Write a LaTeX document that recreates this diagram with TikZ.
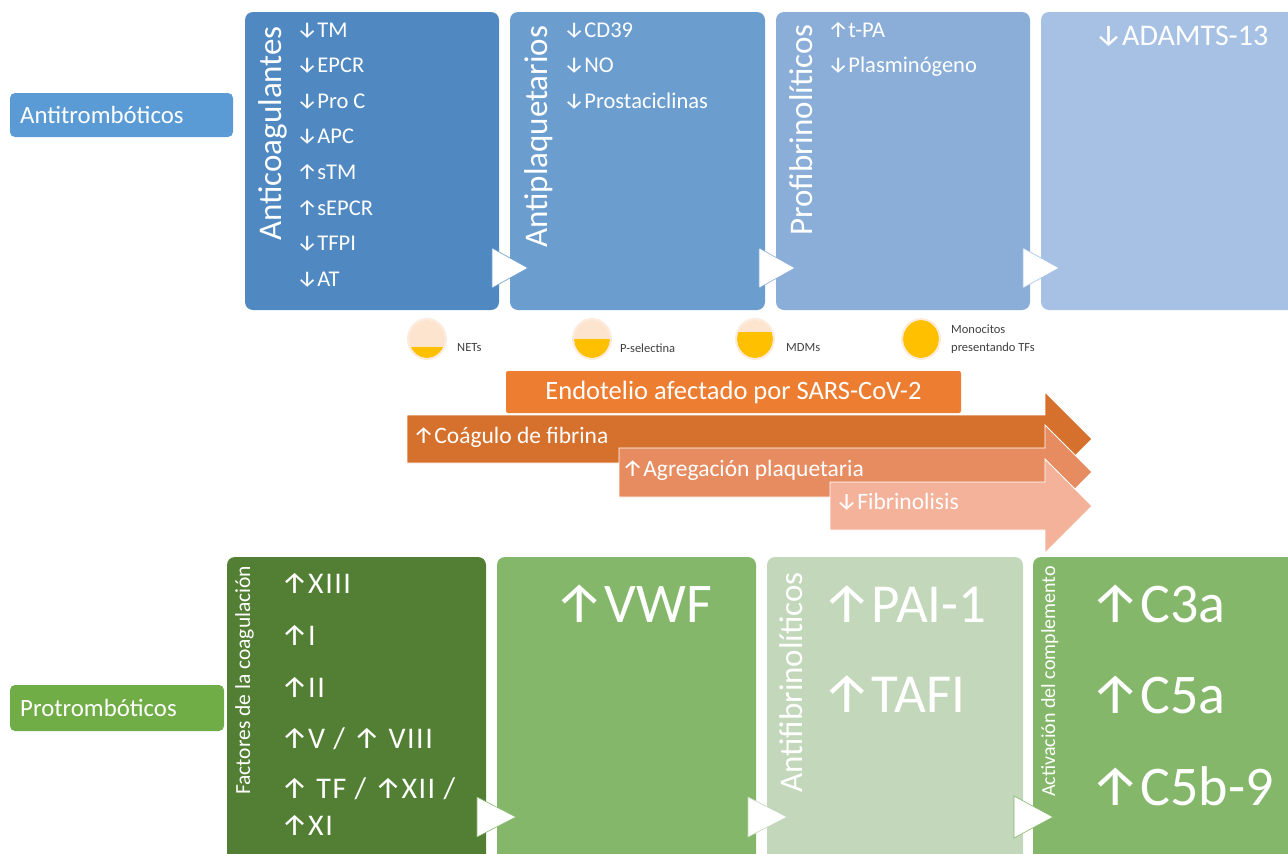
\documentclass[tikz,border=0pt]{standalone}
\usepackage{fontspec}
\setmainfont{Carlito}
\newfontfamily\arrfont{Fira Sans}
\newcommand\myup{{\arrfont ↑}}
\newcommand\mydn{{\arrfont ↓}}
\definecolor{tb1}{HTML}{5089C2}
\definecolor{tb2}{HTML}{6C9DCF}
\definecolor{tb3}{HTML}{8AAED8}
\definecolor{tb4}{HTML}{A6C1E4}
\definecolor{antiL}{HTML}{5B9BD5}
\definecolor{gb1}{HTML}{527F33}
\definecolor{gb2}{HTML}{85B76B}
\definecolor{gb3}{HTML}{C3D8BA}
\definecolor{gb4}{HTML}{85B76B}
\definecolor{proL}{HTML}{70AD47}
\definecolor{or0}{HTML}{ED7D31}
\definecolor{or1}{HTML}{D6712D}
\definecolor{or2}{HTML}{E68C60}
\definecolor{or3}{HTML}{F4B29A}
\definecolor{peach}{HTML}{FCE4CF}
\definecolor{gold}{HTML}{FFC000}
\definecolor{legtxt}{HTML}{404040}
\tikzset{
  box/.style={draw=none, inner sep=0pt, rounded corners=8pt},
  tri/.style={fill=white, draw=#1, line width=0.6pt, line join=miter},
  lbl/.style={text=white, inner sep=0pt, anchor=base west, font=\fontsize{22.5}{26}\selectfont},
  vlab/.style={text=white, inner sep=0pt, anchor=base west, rotate=90, font=\fontsize{33}{36}\selectfont},
  tag/.style={draw=none, inner sep=0pt, rounded corners=5pt},
  tagtxt/.style={text=white, inner sep=0pt, anchor=west, font=\fontsize{24.8}{28}\selectfont},
  leg/.style={text=legtxt, inner sep=0pt, anchor=west, align=left, font=\fontsize{12.5}{18}\selectfont},
  arr/.style={draw=white, line width=0.8pt, line join=miter},
  atxt/.style={text=white, inner sep=0pt, anchor=base west, font=\fontsize{23.5}{28}\selectfont},
  big/.style={text=white, inner sep=0pt, anchor=base west, font=\fontsize{56}{60}\selectfont},
  mid/.style={text=white, inner sep=0pt, anchor=base west, font=\fontsize{30}{34}\selectfont\addfontfeature{LetterSpace=5}}
}
\begin{document}
\begin{tikzpicture}[x=1pt,y=-1pt]
\useasboundingbox (0,0) rectangle (1288,854);
\clip (0,0) rectangle (1288,854);

% ---------- top boxes ----------
\node[box, fill=tb1, minimum width=254pt, minimum height=298pt] (t1) at (372,161) {};
\node[box, fill=tb2, minimum width=255pt, minimum height=298pt] (t2) at (637.5,161) {};
\node[box, fill=tb3, minimum width=254pt, minimum height=298pt] (t3) at (903,161) {};
\node[box, fill=tb4, minimum width=269pt, minimum height=298pt] (t4) at (1175.5,161) {};
\draw[tri=tb2] (492,248) -- (528,268) -- (492,288) -- cycle;
\draw[tri=tb3] (759,248) -- (795,268) -- (759,288) -- cycle;
\draw[tri=tb4] (1023,248) -- (1059,268) -- (1023,288) -- cycle;

\node[vlab] (l1) at (281,241) {Anticoagulantes};
\node[vlab] (l2) at (547,248) {Antiplaquetarios};
\node[vlab] (l3) at (812,236) {Profibrinolíticos};

\node[lbl] (a1) at (297,37) {\mydn TM};
\node[lbl] (a2) at (297,72.6) {\mydn EPCR};
\node[lbl] (a3) at (297,108.2) {\mydn Pro C};
\node[lbl] (a4) at (297,143.8) {\mydn APC};
\node[lbl] (a5) at (297,179.4) {\myup sTM};
\node[lbl] (a6) at (297,215) {\myup sEPCR};
\node[lbl] (a7) at (297,250.6) {\mydn TFPI};
\node[lbl] (a8) at (297,286.2) {\mydn AT};

\node[lbl] (p1) at (564,37) {\mydn CD39};
\node[lbl] (p2) at (564,72.6) {\mydn NO};
\node[lbl] (p3) at (564,108.2) {\mydn Prostaciclinas};

\node[lbl] (f1) at (828,37) {\myup t-PA};
\node[lbl] (f2) at (828,72.6) {\mydn Plasminógeno};

\node[lbl, font=\fontsize{30}{32}\selectfont] (ad) at (1095,45) {\mydn ADAMTS-13};

% ---------- side tags ----------
\node[tag, fill=antiL, minimum width=223pt, minimum height=44pt] (anti) at (121.5,115) {};
\node[tagtxt] (antit) at (20,115) {Antitrombóticos};

% ---------- legend ----------
\foreach \cx/\lev [count=\i] in {427/346.5, 592/339, 755/332, 921/315} {
  \fill[peach] (\cx,339) ellipse (18 and 19);
  \begin{scope}
    \clip (\cx,339) ellipse (18 and 19);
    \fill[gold] (\cx-20,\lev) rectangle (\cx+20,360);
  \end{scope}
  \draw[peach!70, line width=2pt] (\cx,339) ellipse (19 and 20);
}
\node[leg] (n1) at (457,348) {NETs};
\node[leg] (n2) at (620,348) {P-selectina};
\node[leg] (n3) at (786,348) {MDMs};
\node[leg] (n4) at (951,339) {Monocitos\\presentando TFs};

% ---------- orange arrows ----------
\node[fill=or0, inner sep=0pt, rounded corners=2pt, minimum width=455pt, minimum height=42pt,
      text=white, font=\fontsize{26.5}{28}\selectfont] (endo) at (733.5,392) {Endotelio afectado por SARS-CoV-2};
\fill[or1, arr] (407,415) -- (1045,415) -- (1045,392) -- (1092,439) -- (1045,486) -- (1045,463) -- (407,463) -- cycle;
\fill[or2, arr] (619,448) -- (1045,448) -- (1045,425) -- (1092,472) -- (1045,519) -- (1045,497) -- (619,497) -- cycle;
\fill[or3, arr] (830,482) -- (1045,482) -- (1045,459) -- (1092,506) -- (1045,553) -- (1045,530) -- (830,530) -- cycle;
\node[atxt] (o1) at (413,443) {\myup Coágulo de fibrina};
\node[atxt] (o2) at (622,476) {\myup Agregación plaquetaria};
\node[atxt] (o3) at (836,509) {\mydn Fibrinolisis};

% ---------- bottom boxes ----------
\node[box, fill=gb1, minimum width=259pt, minimum height=313pt] (g1) at (356.5,713.5) {};
\node[box, fill=gb2, minimum width=259pt, minimum height=313pt] (g2) at (626.5,713.5) {};
\node[box, fill=gb3, minimum width=256pt, minimum height=313pt] (g3) at (895,713.5) {};
\node[box, fill=gb4, minimum width=267pt, minimum height=313pt] (g4) at (1166.5,713.5) {};
\draw[tri=gb2] (477,797) -- (516,817) -- (477,837) -- cycle;
\draw[tri=gb3] (748,797) -- (787,817) -- (748,837) -- cycle;
\draw[tri=gb4] (1014,796) -- (1053,817) -- (1014,838) -- cycle;

\node[tag, fill=proL, minimum width=214pt, minimum height=46pt] (pro) at (117,708) {};
\node[tagtxt] (prot) at (20,708) {Protrombóticos};

\node[vlab, font=\fontsize{21.5}{24}\selectfont] (v1) at (250,795) {Factores de la coagulación};
\node[vlab] (v3) at (802,793) {Antifibrinolíticos};
\node[vlab, font=\fontsize{20}{24}\selectfont] (v4) at (1055,797) {Activación del complemento};

\node[mid] (c1) at (281,593) {\myup XIII};
\node[mid] (c2) at (281,645) {\myup I};
\node[mid] (c3) at (281,697) {\myup II};
\node[mid] (c4) at (281,748) {\myup V / \myup\ VIII};
\node[mid] (c5) at (281,798) {\myup\ TF / \myup XII /};
\node[mid] (c6) at (281,835) {\myup XI};

\node[big] (vw) at (554,622) {\myup VWF};
\node[big, font=\fontsize{55}{58}\selectfont] (pa) at (822,622) {\myup PAI-1};
\node[big, font=\fontsize{55}{58}\selectfont] (ta) at (822,712) {\myup TAFI};
\node[big] (k1) at (1090,622) {\myup C3a};
\node[big] (k2) at (1090,713) {\myup C5a};
\node[big] (k3) at (1090,805) {\myup C5b-9};
\end{tikzpicture}
\end{document}
